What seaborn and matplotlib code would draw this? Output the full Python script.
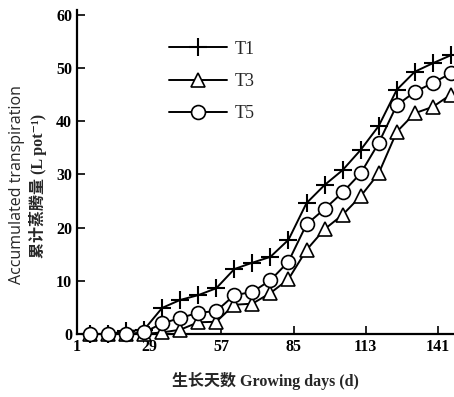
import matplotlib
matplotlib.use("Agg")
import matplotlib.pyplot as plt
import seaborn as sns
import numpy as np

days = [6, 13, 20, 27, 34, 41, 48, 55, 62, 69, 76, 83, 90, 97, 104, 111, 118, 125, 132, 139, 146]
t1 = [0, 0, 0.5, 0.8, 4.9, 6.4, 7.3, 8.6, 12.2, 13.4, 14.5, 17.7, 24.6, 28.0, 30.8, 34.6, 39.1, 45.9, 49.3, 50.9, 52.4]
t3 = [0, 0, 0, 0, 0.3, 0.8, 2.2, 2.3, 5.5, 5.7, 7.7, 10.3, 15.8, 19.7, 22.4, 25.9, 30.2, 38.0, 41.5, 42.7, 45.0]
t5 = [0, 0, 0, 0.3, 2.0, 3.0, 4.0, 4.3, 7.3, 7.9, 10.1, 13.6, 20.6, 23.5, 26.6, 30.2, 35.9, 43.0, 45.5, 47.2, 49.0]
xticks = [1, 29, 57, 85, 113, 141]
yticks = [0, 10, 20, 30, 40, 50, 60]

sns.set_style("ticks")
FAM = ['Liberation Serif', 'Noto Sans CJK SC', 'DejaVu Serif']
plt.rcParams['font.family'] = FAM

fig = plt.figure(figsize=(4.54, 3.97), dpi=100)
ax = fig.add_axes([77/454, 63/397, 377/454, 324/397])

common = dict(color='black', linewidth=1.4, clip_on=False, ax=ax)
sns.lineplot(x=days, y=t1, marker='+', markersize=13, markeredgewidth=1.5,
             markeredgecolor='black', label='T1', zorder=3, **common)
sns.lineplot(x=days, y=t3, marker='^', markersize=10, markerfacecolor='white',
             markeredgecolor='black', markeredgewidth=1.2, label='T3', zorder=3, **common)
sns.lineplot(x=days, y=t5, marker='o', markersize=10, markerfacecolor='white',
             markeredgecolor='black', markeredgewidth=1.2, label='T5', zorder=3, **common)

ax.set_xlim(1, 147.2)
ax.set_ylim(0, 60.9)
ax.set_xticks(xticks)
ax.set_yticks(yticks)
ax.tick_params(direction='in', length=6, width=1.2, labelsize=11.5, colors='black')
for lab in ax.get_xticklabels() + ax.get_yticklabels():
    lab.set_fontweight('bold')
sns.despine(ax=ax)
for s in ['left', 'bottom']:
    ax.spines[s].set_linewidth(1.6)
    ax.spines[s].set_color('black')

ax.set_xlabel('生长天数 Growing days (d)', fontsize=11.5, fontweight='bold', labelpad=12)
ax.set_ylabel('')
fig.text(17/454, 1 - 185/397, 'Accumulated transpiration', rotation=90,
         ha='center', va='center', fontsize=11.5,
         family=['Open Sans', 'DejaVu Sans'])
fig.text(38/454, 1 - 186/397, '累计蒸腾量 (L pot⁻¹)', rotation=90,
         ha='center', va='center', fontsize=11.5, fontweight='bold', family=FAM)

leg = ax.legend(loc='upper left', bbox_to_anchor=(0.245, 0.905), frameon=False,
                fontsize=13, handlelength=3.2, handletextpad=0.4, labelspacing=0.85,
                borderaxespad=0, borderpad=0)

fig.savefig('out.png', dpi=100)
